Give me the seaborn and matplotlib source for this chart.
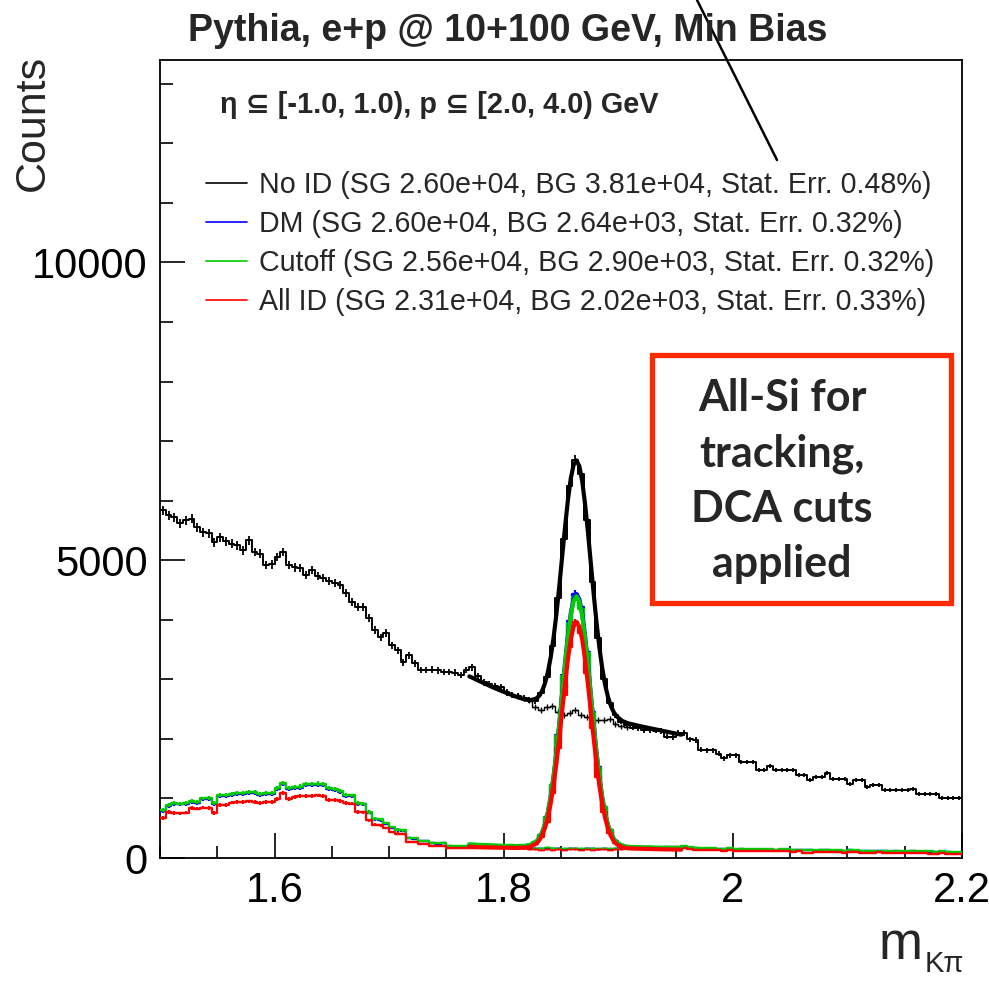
import numpy as np
import pandas as pd
import matplotlib
matplotlib.use('Agg')
import matplotlib.pyplot as plt
import seaborn as sns
from matplotlib.patches import Rectangle
from matplotlib.lines import Line2D
from matplotlib.ticker import MultipleLocator, FixedLocator, FixedFormatter

# ---------------- data ----------------
x_min, x_max, n_bins = 1.5, 2.2, 140
peak_lo = 62  # first bin of the window where the background-only histogram differs

noid_total = [5839, 5755, 5720, 5620, 5672, 5700, 5554, 5470, 5450, 5302,
              5386, 5320, 5280, 5250, 5168, 5336, 5135, 5110, 4916, 4930,
              5051, 5135, 4916, 4880, 4866, 4749, 4833, 4730, 4700, 4650,
              4620, 4580, 4447, 4296, 4220, 4212, 4028, 3826, 3708, 3776,
              3574, 3490, 3289, 3406, 3272, 3155, 3155, 3160, 3150, 3121,
              3121, 3110, 3070, 3155, 3205, 3050, 2950, 2920, 2880, 2870,
              2780, 2740, 2720, 2690, 2660, 2640, 2770, 3040, 3560, 4370,
              5360, 6240, 6680, 6450, 5670, 4640, 3700, 3010, 2600, 2400,
              2290, 2240, 2190, 2180, 2150, 2150, 2140, 2130, 2040, 2030,
              2100, 2097, 1990, 1980, 1820, 1812, 1812, 1750, 1678, 1728,
              1728, 1611, 1611, 1611, 1477, 1477, 1544, 1477, 1477, 1477,
              1477, 1393, 1393, 1309, 1359, 1359, 1426, 1326, 1326, 1326,
              1242, 1309, 1309, 1191, 1225, 1225, 1141, 1141, 1141, 1141,
              1141, 1158, 1074, 1074, 1074, 1074, 1007, 1007, 1007, 1007]

dm_total = [790, 870, 905, 900, 905, 940, 925, 985, 990, 905,
            1040, 1045, 1062, 1075, 1078, 1090, 1093, 1062, 1075, 1068,
            1158, 1240, 1158, 1172, 1182, 1222, 1225, 1232, 1222, 1158,
            1142, 1106, 1043, 1033, 907, 900, 758, 648, 638, 575,
            510, 465, 455, 332, 322, 278, 278, 248, 243, 252,
            198, 193, 193, 193, 188, 193, 188, 193, 188, 193,
            198, 203, 194, 198, 212, 260, 390, 683, 1230, 2065,
            3075, 3975, 4430, 4220, 3460, 2450, 1520, 855, 470, 285,
            212, 187, 182, 177, 172, 177, 172, 172, 177, 182,
            177, 187, 172, 167, 157, 152, 152, 147, 147, 152,
            142, 147, 142, 142, 137, 142, 137, 132, 142, 137,
            132, 132, 127, 132, 122, 127, 127, 122, 122, 117,
            127, 122, 117, 112, 117, 112, 117, 107, 112, 107,
            107, 112, 102, 107, 102, 97, 102, 97, 92, 92]

cut_total = [805, 889, 923, 915, 923, 956, 940, 1000, 1010, 923,
             1057, 1060, 1080, 1091, 1095, 1108, 1110, 1080, 1091, 1085,
             1175, 1259, 1175, 1190, 1200, 1240, 1242, 1250, 1240, 1175,
             1160, 1124, 1060, 1050, 923, 915, 772, 660, 650, 587,
             520, 475, 465, 340, 330, 285, 285, 255, 250, 260,
             205, 200, 200, 200, 195, 200, 195, 200, 195, 200,
             205, 210, 201, 205, 219, 266, 394, 683, 1225, 2050,
             3050, 3940, 4388, 4188, 3440, 2435, 1515, 855, 475, 290,
             220, 195, 190, 185, 180, 185, 180, 180, 185, 190,
             185, 195, 180, 175, 165, 160, 160, 155, 155, 160,
             150, 155, 150, 150, 145, 150, 145, 140, 150, 145,
             140, 140, 135, 140, 130, 135, 135, 130, 130, 125,
             135, 130, 125, 120, 125, 120, 125, 115, 120, 115,
             115, 120, 110, 115, 110, 105, 110, 105, 100, 100]

all_total = [671, 772, 755, 750, 760, 839, 830, 845, 840, 755,
             889, 890, 930, 940, 945, 950, 940, 925, 940, 935,
             990, 1091, 990, 1030, 1035, 1040, 1045, 1050, 1040, 973,
             975, 960, 923, 915, 772, 765, 638, 560, 550, 503,
             436, 410, 400, 270, 265, 235, 235, 205, 200, 200,
             170, 165, 168, 165, 170, 165, 168, 165, 170, 165,
             168, 170, 171, 175, 188, 230, 345, 607, 1095, 1845,
             2745, 3550, 3955, 3775, 3100, 2190, 1360, 765, 420, 255,
             190, 168, 155, 160, 150, 155, 150, 150, 155, 160,
             150, 160, 150, 140, 135, 130, 130, 128, 125, 128,
             120, 125, 120, 118, 110, 115, 112, 110, 115, 110,
             105, 110, 85, 88, 105, 100, 95, 100, 95, 90,
             95, 100, 90, 85, 90, 95, 85, 90, 85, 80,
             85, 90, 80, 85, 65, 75, 80, 75, 75, 70]

# background-only histograms in the peak window (bins 62..81)
noid_bg = [2720, 2690, 2660, 2530, 2483, 2534, 2550, 2450, 2400, 2430,
           2490, 2400, 2366, 2282, 2316, 2316, 2330, 2250, 2210, 2200]
dm_bg = [185, 178, 172, 165, 160, 170, 160, 165, 155, 165,
         160, 155, 165, 160, 155, 160, 155, 160, 170, 172]
cut_bg = [195, 188, 180, 175, 170, 180, 170, 175, 165, 175,
          170, 165, 175, 170, 165, 170, 165, 170, 180, 185]
all_bg = [165, 160, 150, 150, 140, 145, 140, 150, 140, 145,
          150, 140, 145, 140, 150, 145, 140, 150, 155, 160]

# fitted curves (signal + background)
fit_x = [1.770, 1.780, 1.790, 1.800, 1.810, 1.8185, 1.8235, 1.8285, 1.831, 1.8335,
         1.836, 1.8385, 1.841, 1.8435, 1.846, 1.8485, 1.851, 1.8535, 1.856, 1.8585,
         1.861, 1.8635, 1.866, 1.8685, 1.871, 1.8735, 1.876, 1.8785, 1.881, 1.8835,
         1.886, 1.8885, 1.891, 1.8935, 1.896, 1.8985, 1.9035, 1.9085, 1.920, 1.930,
         1.940, 1.955]
noid_fit = [3050, 2960, 2870, 2790, 2715, 2661, 2649, 2678, 2724, 2806,
            2932, 3115, 3370, 3697, 4097, 4562, 5058, 5553, 6005, 6370,
            6601, 6676, 6581, 6330, 5946, 5474, 4958, 4441, 3956, 3535,
            3186, 2908, 2703, 2554, 2450, 2380, 2301, 2262, 2210, 2170,
            2130, 2070]
dm_fit = [222, 212, 204, 197, 192, 196, 215, 272, 332, 425,
          564, 760, 1027, 1367, 1778, 2254, 2761, 3269, 3731, 4105,
          4346, 4431, 4345, 4103, 3728, 3265, 2756, 2248, 1771, 1359,
          1018, 750, 553, 413, 319, 258, 199, 178, 170, 167,
          162, 157]
cut_fit = [230, 220, 212, 205, 200, 204, 222, 279, 338, 431,
           568, 762, 1026, 1362, 1769, 2240, 2741, 3244, 3701, 4071,
           4310, 4394, 4309, 4069, 3698, 3240, 2736, 2234, 1762, 1354,
           1017, 752, 557, 419, 325, 265, 206, 186, 178, 175,
           170, 165]
all_fit = [190, 182, 177, 173, 170, 175, 191, 243, 296, 380,
           504, 679, 917, 1221, 1590, 2015, 2469, 2923, 3336, 3670,
           3887, 3962, 3886, 3669, 3334, 2920, 2466, 2011, 1585, 1216,
           911, 672, 497, 371, 287, 233, 180, 163, 155, 150,
           145, 140]

labels = ["No ID (SG 2.60e+04, BG 3.81e+04, Stat. Err. 0.48%)",
          "DM (SG 2.60e+04, BG 2.64e+03, Stat. Err. 0.32%)",
          "Cutoff (SG 2.56e+04, BG 2.90e+03, Stat. Err. 0.32%)",
          "All ID (SG 2.31e+04, BG 2.02e+03, Stat. Err. 0.33%)"]
colors = ['#000000', '#0000ff', '#00cc00', '#ff0000']

x_ticks = [1.6, 1.8, 2.0, 2.2]
x_ticklabels = ['1.6', '1.8', '2', '2.2']
y_ticks = [0, 5000, 10000]
y_ticklabels = ['0', '5000', '10000']

# ---------------- style ----------------
sns.set_theme(style='ticks')
plt.rcParams['font.family'] = ['Liberation Sans', 'DejaVu Sans']
plt.rcParams['axes.edgecolor'] = 'black'
plt.rcParams['xtick.color'] = 'black'
plt.rcParams['ytick.color'] = 'black'

fig = plt.figure(figsize=(9.89, 9.81), dpi=100)
ax = fig.add_axes([160 / 989, 1 - 858 / 981, 802 / 989, 798 / 981])

edges = np.linspace(x_min, x_max, n_bins + 1)
centers = 0.5 * (edges[:-1] + edges[1:])
half = 0.5 * (edges[1] - edges[0])
win = slice(peak_lo, peak_lo + len(noid_bg))
win_edges = edges[peak_lo:peak_lo + len(noid_bg) + 1]


def draw_hist(vals, cen, edg, color, lw, elw, z):
    df = pd.DataFrame({'m': np.asarray(cen, dtype=float), 'n': np.asarray(vals, dtype=float)})
    sns.histplot(data=df, x='m', weights='n', bins=[float(e) for e in edg], element='step',
                 fill=False, color=color, linewidth=lw, ax=ax, zorder=z)
    ax.errorbar(df['m'], df['n'], xerr=half, yerr=np.sqrt(df['n']), fmt='none',
                ecolor=color, elinewidth=elw, capsize=0, zorder=z)


# No ID
draw_hist(noid_bg, centers[win], win_edges, 'black', 1.0, 1.0, 3)
draw_hist(noid_total, centers, edges, 'black', 1.4, 1.3, 3)
sns.lineplot(x=fit_x, y=noid_fit, color='black', linewidth=3.0, ax=ax,
             sort=False, estimator=None, zorder=4)

# identified samples
for tot, bg, col in [(dm_total, dm_bg, colors[1]), (cut_total, cut_bg, colors[2]),
                     (all_total, all_bg, colors[3])]:
    draw_hist(tot, centers, edges, col, 1.6, 1.6, 5)
    draw_hist(bg, centers[win], win_edges, col, 1.0, 1.0, 5)
for fit, col in [(dm_fit, colors[1]), (cut_fit, colors[2]), (all_fit, colors[3])]:
    sns.lineplot(x=fit_x, y=fit, color=col, linewidth=3.0, ax=ax,
                 sort=False, estimator=None, zorder=6)

# ---------------- axes ----------------
ax.set_xlim(x_min, x_max)
ax.set_ylim(0, 13400)
ax.xaxis.set_major_locator(FixedLocator(x_ticks))
ax.xaxis.set_major_formatter(FixedFormatter(x_ticklabels))
ax.xaxis.set_minor_locator(MultipleLocator(0.05))
ax.yaxis.set_major_locator(FixedLocator(y_ticks))
ax.yaxis.set_major_formatter(FixedFormatter(y_ticklabels))
ax.yaxis.set_minor_locator(MultipleLocator(1000))
ax.tick_params(which='both', direction='in', top=False, right=False, width=1.2)
ax.tick_params(which='major', length=18, labelsize=30, pad=9)
ax.tick_params(which='minor', length=9)
for s in ax.spines.values():
    s.set_linewidth(1.3)
    s.set_color('black')

# axis titles (ROOT style: at the ends of the axes)
ax.set_xlabel('')
fig.text(879 / 989, 1 - 959 / 981, 'm', ha='left', va='baseline', fontsize=38)
fig.text(925 / 989, 1 - 972 / 981, 'Kπ', ha='left', va='baseline', fontsize=21)
ax.set_ylabel('Counts', fontsize=31, ha='right')
ax.yaxis.set_label_coords(-0.133, 1.006)

fig.text(0.513, 0.968, 'Pythia, e+p @ 10+100 GeV, Min Bias', ha='center', va='center',
         fontsize=27, fontweight='bold')

ax.text(0.075, 0.944, 'η ⊆ [-1.0, 1.0), p ⊆ [2.0, 4.0) GeV', transform=ax.transAxes,
        ha='left', va='center', fontsize=20.8, fontweight='bold',
        family=['Liberation Sans', 'DejaVu Sans'])

handles = [Line2D([], [], color=c, linewidth=1.2) for c in colors]
ax.legend(handles, labels, loc='upper left', bbox_to_anchor=(0.057, 0.861),
          bbox_transform=ax.transAxes, frameon=False, fontsize=20.6,
          handlelength=1.45, handletextpad=0.42, labelspacing=0.39,
          borderaxespad=0, borderpad=0)

ax.add_patch(Rectangle((0.6135, 0.3195), 0.3728, 0.3108, transform=ax.transAxes,
                       fill=False, edgecolor='#ff2a00', linewidth=3.8, zorder=10))
ax.text(0.7756, 0.4724, 'All-Si for\ntracking,\nDCA cuts\napplied', transform=ax.transAxes,
        ha='center', va='center', fontsize=31, fontweight='bold', family='Lato',
        linespacing=1.45, zorder=11)

fig.add_artist(Line2D([697 / 989, 777 / 989], [1.0, 1 - 160 / 981], transform=fig.transFigure,
                      color='black', linewidth=1.8))

fig.savefig('out.png', dpi=100)
